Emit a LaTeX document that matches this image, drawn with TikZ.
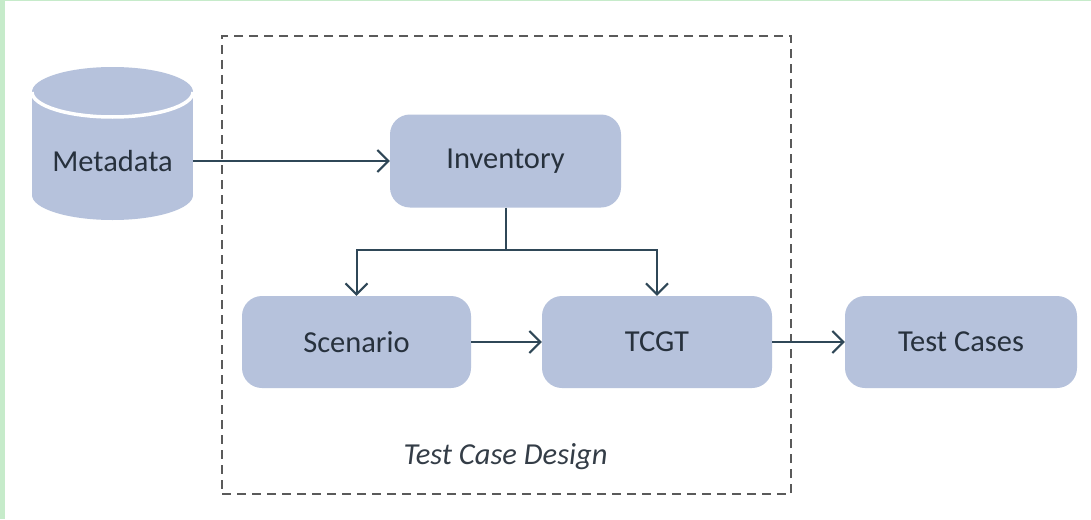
\documentclass[tikz,border=0pt]{standalone}
\usepackage{fontspec}
\setmainfont{Carlito}
\usetikzlibrary{arrows.meta}
\definecolor{boxfill}{HTML}{B6C2DC}
\definecolor{linkcol}{HTML}{2F4757}
\definecolor{txtcol}{HTML}{27313D}
\definecolor{dashcol}{HTML}{5A5A5A}
\definecolor{framegreen}{HTML}{C6EBCA}
\begin{document}
\begin{tikzpicture}[x=1pt,y=-1pt,
  label font/.style={font=\fontsize{30.5}{36}\selectfont},
  proc/.style={fill=boxfill, rounded corners=20pt, minimum height=92pt,
    text=txtcol, inner sep=0pt, label font},
  link/.style={draw=linkcol, line width=2pt},
  arrowlink/.style={link, -{Straight Barb[length=11pt,width=22pt]}},
  group/.style={draw=dashcol, line width=1.6pt, dash pattern=on 9pt off 6pt,
    inner sep=0pt},
]
\useasboundingbox (0,0) rectangle (1091,519);
\fill[white] (0,0) rectangle (1091,519);
\fill[framegreen] (0,0) rectangle (5,519);
\fill[framegreen] (0,0) rectangle (1091,1.5);

% dashed group frame
\node[group, minimum width=569pt, minimum height=458pt] (design) at (506.5,265) {};
\node[label font, font=\fontsize{30.5}{36}\itshape, text=txtcol!85!gray]
  (designlbl) at (505.5,457) {Test Case Design};

% Metadata cylinder
\fill[boxfill] (32,92) rectangle (193,195);
\fill[boxfill] (112.5,195) ellipse [x radius=80.5pt, y radius=25pt];
\fill[boxfill] (112.5,92) ellipse [x radius=80.5pt, y radius=25pt];
\draw[white, line width=3.5pt] (32,92)
  arc[start angle=180, end angle=360, x radius=80.5pt, y radius=25pt];
\node[label font, text=txtcol, minimum width=161pt, inner sep=0pt]
  (meta) at (112.5,161) {Metadata};

% process boxes
\node[proc, minimum width=231pt, minimum height=93pt] (inv) at (505.5,161) {Inventory};
\node[proc, minimum width=229pt] (scen) at (356.5,342) {Scenario};
\node[proc, minimum width=230pt] (tcgt) at (657,342) {TCGT};
\node[proc, minimum width=232pt] (tc) at (961,342) {Test Cases};

% connectors
\draw[arrowlink] (meta.east) -- (inv.west);
\draw[link] (inv.south) -- ++(0,42.5) coordinate (split);
\draw[arrowlink] (split) -| (scen.north);
\draw[arrowlink] (split) -| (tcgt.north);
\draw[arrowlink] (scen.east) -- (tcgt.west);
\draw[arrowlink] (tcgt.east) -- (tc.west);
\end{tikzpicture}
\end{document}
